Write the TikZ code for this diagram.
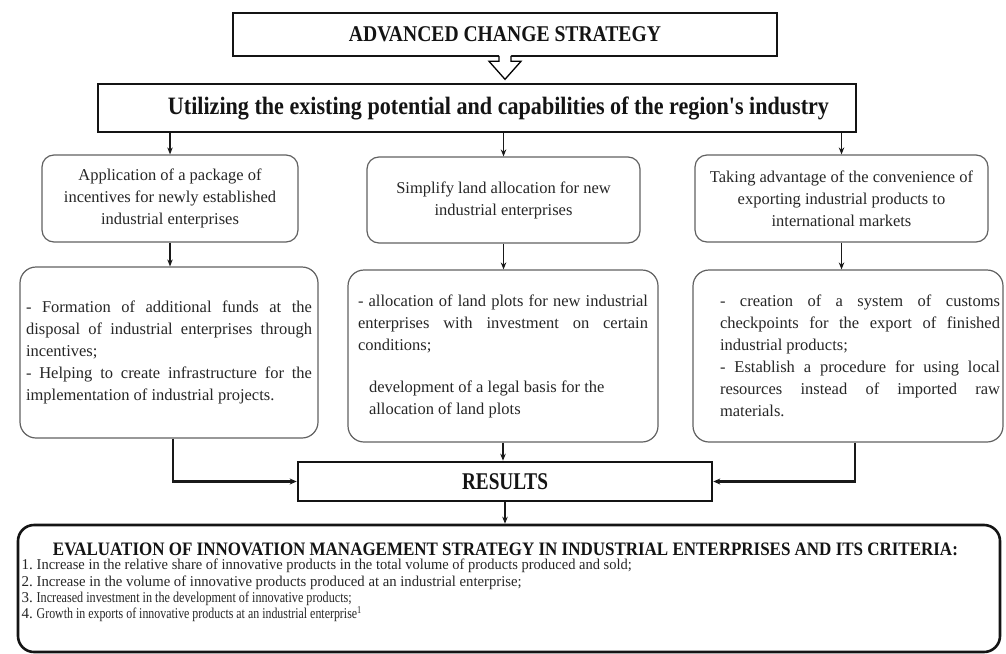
\documentclass[tikz,border=0pt]{standalone}
\usepackage{fontspec}
\usepackage{graphicx}
\setmainfont{Liberation Serif}
\usetikzlibrary{arrows.meta}

% one line of bold text squeezed or widened to a given width
\newcommand\fitbold[3]{\resizebox{#1}{\height}{\fontsize{#2}{#2}\selectfont\bfseries #3}}
% one line of plain text set to a given width
\newcommand\fitplain[2]{\resizebox{#1}{\height}{#2}}
% a justified block: every \linebreak gives a full-width line
\newcommand\justblock[2]{\parbox{#1}{\tolerance=10000\hbadness=10000 #2}}

\begin{document}
\begin{tikzpicture}[x=1pt,y=-1pt,
  heavybox/.style={draw=black!92, line width=2.6pt, fill=white, inner sep=0pt, text=black!92},
  softbox/.style={draw=black!62, line width=1.2pt, rounded corners=12pt, fill=white,
                  inner sep=0pt, text=black!85, font=\fontsize{16.5}{22}\selectfont},
  link/.style={draw=black!90, line width=1.4pt, -{Stealth[length=7pt,width=5.5pt]}},
  feed/.style={draw=black!90, line width=2.2pt, -{Stealth[length=7pt,width=6pt]}}]

\fill[white] (0,0) rectangle (1006,653);
\useasboundingbox (0,0) rectangle (1006,653);

% strategy heading and the main direction
\node[heavybox, minimum width=544pt, minimum height=43pt] (strategy) at (505,34.5)
  {\fitbold{312pt}{22.5}{ADVANCED CHANGE STRATEGY}};
\node[heavybox, minimum width=758pt, minimum height=48pt] (potential) at (477,108)
  {\hspace*{43pt}\fitbold{661pt}{25}{Utilizing the existing potential and capabilities of the region\textquotesingle s industry}};

% hollow arrow between the two headings
\path (strategy.south) coordinate (hollow-top);
\fill[white] (hollow-top) ++(-6,-3) -- ++(0,7) -- ++(-10,0) -- ++(16,18) -- ++(16,-18) -- ++(-10,0) -- ++(0,-7) -- cycle;
\draw[line width=1.3pt, line join=miter] (hollow-top) ++(-6,-1.5) -- ++(0,5.5) -- ++(-10,0) -- ++(16,18) -- ++(16,-18) -- ++(-10,0) -- ++(0,-5.5);

% three measures
\node[softbox, minimum width=256pt, minimum height=87pt, align=center] (apply) at (170,198.5)
  {Application of a package of\\incentives for newly established\\industrial enterprises};
\node[softbox, minimum width=273pt, minimum height=86pt, align=center] (land) at (503.5,200)
  {Simplify land allocation for new\\industrial enterprises};
\node[softbox, minimum width=293pt, minimum height=87pt, align=center] (export) at (841.5,198.5)
  {Taking advantage of the convenience of\\exporting industrial products to\\international markets};

% their contents
\node[softbox, rounded corners=16pt, minimum width=298pt, minimum height=171pt] (funds) at (169,352.5)
  {\justblock{286pt}{- Formation of additional funds at the\linebreak
   disposal of industrial enterprises through\linebreak incentives;\\
   - Helping to create infrastructure for the\linebreak
   implementation of industrial projects.}};
\node[softbox, rounded corners=16pt, minimum width=310pt, minimum height=172pt] (plots) at (503,356)
  {\justblock{290pt}{- allocation of land plots for new industrial\linebreak
   enterprises with investment on certain\linebreak conditions;\par\vspace{20pt}
   \hspace*{11pt}development of a legal basis for the\\
   \hspace*{11pt}allocation of land plots}};
\node[softbox, rounded corners=16pt, minimum width=310pt, minimum height=172pt] (customs) at (848,356)
  {\hspace*{24pt}\justblock{280pt}{- creation of a system of customs\linebreak
   checkpoints for the export of finished\linebreak industrial products;\\
   - Establish a procedure for using local\linebreak
   resources instead of imported raw\linebreak materials.}};

% results and evaluation
\node[heavybox, minimum width=414pt, minimum height=39pt] (results) at (505,481.5)
  {\fitbold{86pt}{24}{RESULTS}};
\node[heavybox, rounded corners=16pt, minimum width=982pt, minimum height=127pt] (evaluation) at (509,588.5) {};
\node[inner sep=0pt, text=black!92] (criteria-head) at (505.5,549)
  {\fitbold{905pt}{19}{EVALUATION OF INNOVATION MANAGEMENT STRATEGY IN INDUSTRIAL ENTERPRISES AND ITS CRITERIA:}};
\node[anchor=north west, inner sep=0pt, align=left, text=black!85,
      font=\fontsize{15}{16.3}\selectfont] (criteria) at (21.5,559)
  {\makebox[15pt][l]{1.}\fitplain{595pt}{Increase in the relative share of innovative products in the total volume of products produced and sold;}\\
   \makebox[15pt][l]{2.}\fitplain{485pt}{Increase in the volume of innovative products produced at an industrial enterprise;}\\
   \makebox[15pt][l]{3.}\fitplain{315pt}{Increased investment in the development of innovative products;}\\
   \makebox[15pt][l]{4.}\fitplain{325pt}{Growth in exports of innovative products at an industrial enterprise\textsuperscript{1}}};

% connectors
\draw[link] (potential.south -| apply.north) -- (apply.north);
\draw[link] (potential.south -| land.north) -- (land.north);
\draw[link] (potential.south -| export.north) -- (export.north);
\draw[link] (apply.south) -- (apply.south |- funds.north);
\draw[link] (land.south) -- (land.south |- plots.north);
\draw[link] (export.south) -- (export.south |- customs.north);
\draw[feed] ([xshift=4pt]funds.south) |- (results.west);
\draw[link] (plots.south) -- (plots.south |- results.north);
\draw[feed] ([xshift=7pt]customs.south) |- (results.east);
\draw[link] (results.south) -- (results.south |- evaluation.north);

\end{tikzpicture}
\end{document}
